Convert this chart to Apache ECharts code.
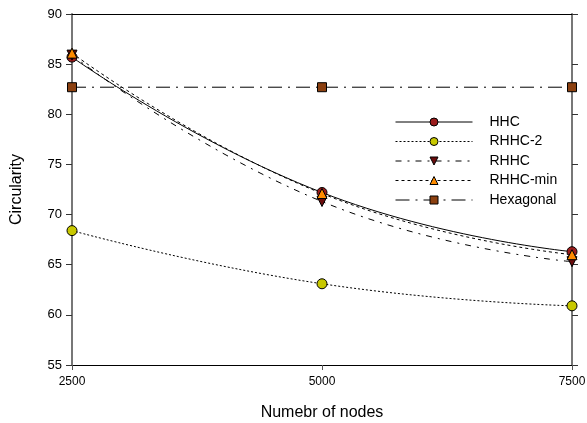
<!DOCTYPE html>
<html>
<head>
<meta charset="utf-8">
<script src="https://cdn.jsdelivr.net/npm/echarts@6/dist/echarts.min.js"></script>
<style>
  html, body { margin: 0; padding: 0; background: #fff; }
  #chart { width: 587px; height: 423px; }
</style>
</head>
<body>
<div id="chart"></div>
<script>
// 数据
var nodes = [2500, 5000, 7500];
var hhc = [85.7, 72.2, 66.3];
var rhhc2 = [68.4, 63.1, 60.9];
var rhhc = [85.9, 71.3, 65.3];
var rhhcMin = [86.1, 72.1, 66.0];
var hexagonal = [82.7, 82.7, 82.7];

function pairs(vals) {
    return nodes.map(function (n, i) { return [n, vals[i]]; });
}

var myChart = echarts.init(document.getElementById('chart'));

//series模板
function makeSeries(name, vals, symbol, color, dash, smooth, rotate) {
    return {
        name: name,
        type: 'line',
        data: pairs(vals),
        smooth: smooth,
        symbol: symbol,
        symbolSize: symbol === 'rect' ? 9 : 10,
        symbolRotate: rotate || 0,
        itemStyle: { color: color, borderColor: '#000', borderWidth: 1 },
        lineStyle: { color: '#000', width: 1, type: dash },
        z: 3
    };
}

var option = {
    animation: false,
    grid: { left: 72, right: 15, top: 14, bottom: 58, outerBoundsMode: 'none', containLabel: false },
    legend: {
        left: 390,
        top: 110,
        orient: 'vertical',
        itemWidth: 77,
        itemHeight: 10,
        itemGap: 5.5,
        lineStyle: { width: 1 },
        itemStyle: { borderWidth: 1 },
        textStyle: { fontFamily: 'Liberation Sans', fontSize: 14, color: '#000', padding: [0, 0, 0, 12] },
        data: ['HHC', 'RHHC-2', 'RHHC', 'RHHC-min', 'Hexagonal']
    },
    xAxis: [{
        type: 'value',
        min: 2500, max: 7500, interval: 2500,
        name: 'Numebr of nodes',
        nameLocation: 'middle',
        nameGap: 40,
        nameTextStyle: { fontFamily: 'Liberation Sans', fontSize: 16, color: '#000' },
        axisLine: { lineStyle: { color: '#000', width: 1 } },
        axisTick: { show: true, length: 5, lineStyle: { color: '#555' } },
        axisLabel: {
            fontFamily: 'Liberation Sans', fontSize: 12, color: '#000', margin: 11,
            formatter: function (v) { return String(v); }
        },
        splitLine: { show: false }
    }, {
        type: 'value',
        position: 'top',
        min: 2500, max: 7500,
        axisLine: { show: true, lineStyle: { color: '#000', width: 1 } },
        axisTick: { show: false },
        axisLabel: { show: false },
        splitLine: { show: false }
    }],
    yAxis: [{
        type: 'value',
        min: 55, max: 90, interval: 5,
        name: 'Circularity',
        nameLocation: 'middle',
        nameGap: 47,
        nameTextStyle: { fontFamily: 'Liberation Sans', fontSize: 16, color: '#000' },
        axisLine: { show: true, lineStyle: { color: '#777', width: 2 } },
        axisTick: { show: true, length: 6, lineStyle: { color: '#333' } },
        axisLabel: { fontFamily: 'Liberation Sans', fontSize: 13, color: '#000', margin: 10 },
        splitLine: { show: false }
    }, {
        type: 'value',
        position: 'right',
        min: 55, max: 90, interval: 5,
        axisLine: { show: true, lineStyle: { color: '#777', width: 2 } },
        axisTick: { show: true, length: 6, lineStyle: { color: '#333' } },
        axisLabel: { show: false },
        splitLine: { show: false }
    }],
    series: [
        makeSeries('HHC', hhc, 'circle', '#9b1c1c', 'solid', true),
        makeSeries('RHHC-2', rhhc2, 'circle', '#c8c800', [2, 2], true),
        makeSeries('RHHC', rhhc, 'triangle', '#6b0c0c', [6, 6, 2, 6], true, 180),
        makeSeries('RHHC-min', rhhcMin, 'triangle', '#ff8c00', [3, 3], true),
        makeSeries('Hexagonal', hexagonal, 'rect', '#8b4010', [14, 6, 2, 6], false)
    ]
};

myChart.setOption(option);
</script>
</body>
</html>
